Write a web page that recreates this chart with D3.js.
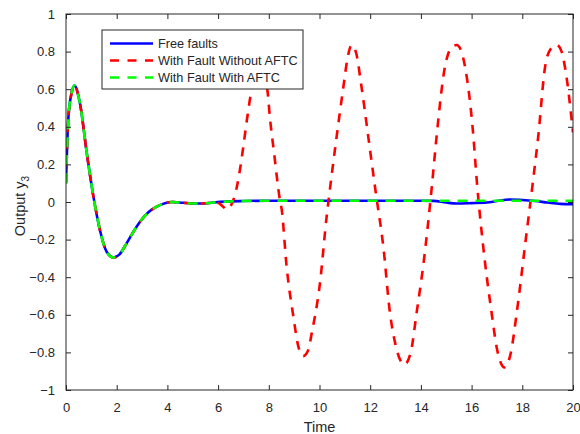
<!DOCTYPE html>
<html>
<head>
<meta charset="utf-8">
<script src="https://cdn.jsdelivr.net/npm/d3@7"></script>
<style>
    body { margin: 0; background: #fff; }
    text { font-family: "Liberation Sans", Arial, sans-serif; fill: #262626; }
</style>
</head>
<body>
<div id="chart"></div>
<script>
const WIDTH = 580;
const HEIGHT = 434;
const MARGIN = { top: 14, right: 7, bottom: 44, left: 66 };

const xTicks = [0, 2, 4, 6, 8, 10, 12, 14, 16, 18, 20];
const yTicks = [-1, -0.8, -0.6, -0.4, -0.2, 0, 0.2, 0.4, 0.6, 0.8, 1];
const seriesNames = ['Free faults', 'With Fault Without AFTC', 'With Fault With AFTC'];
const seriesColors = ['#0000ff', '#ff0000', '#00ff00'];

// Free faults
const freeT = [0, 0.09, 0.22, 0.33, 0.55, 0.82, 1.08, 1.34, 1.6, 1.87, 2.1, 2.39, 2.65, 2.92, 3.25, 3.58, 3.9, 4.2, 4.6, 5.0, 5.4, 5.8, 6.3, 7.0, 8, 10, 12, 14, 14.5, 15.0, 15.4, 16.0, 16.6, 17.0, 17.5, 17.9, 18.5, 19.0, 19.5, 20];
const freeY = [0.10, 0.44, 0.58, 0.62, 0.525, 0.26, 0.03, -0.15, -0.264, -0.295, -0.28, -0.22, -0.16, -0.105, -0.055, -0.025, -0.006, 0.0, -0.004, -0.008, -0.008, -0.003, 0.002, 0.005, 0.007, 0.007, 0.007, 0.007, 0.006, -0.003, -0.008, -0.006, -0.003, 0.005, 0.013, 0.012, 0.005, -0.003, -0.01, -0.012];

// With fault, without AFTC
const noAftcT = [0, 0.09, 0.22, 0.33, 0.55, 0.82, 1.08, 1.34, 1.6, 1.87, 2.1, 2.39, 2.65, 2.92, 3.25, 3.58, 3.9, 4.2, 4.6, 5.0, 5.4, 5.8, 6.0, 6.2, 6.35, 6.5, 6.67, 6.86, 7.0, 7.14, 7.33, 7.5, 7.63, 7.8, 7.94, 8.05, 8.2, 8.44, 8.51, 8.7, 8.97, 9.15, 9.35, 9.55, 9.69, 10.02, 10.28, 10.35, 10.62, 10.94, 11.1, 11.27, 11.45, 11.66, 11.98, 12.22, 12.52, 12.78, 13.0, 13.35, 13.6, 13.83, 14.1, 14.43, 14.62, 14.95, 15.15, 15.41, 15.6, 15.74, 16.07, 16.2, 16.46, 16.79, 17.0, 17.3, 17.55, 17.78, 18.1, 18.43, 18.63, 18.9, 19.1, 19.36, 19.55, 19.68, 20.0];
const noAftcY = [0.10, 0.44, 0.58, 0.62, 0.525, 0.26, 0.03, -0.15, -0.264, -0.295, -0.28, -0.22, -0.16, -0.105, -0.055, -0.025, -0.006, 0.0, -0.004, -0.008, -0.008, -0.003, -0.005, -0.025, -0.04, -0.02, 0.04, 0.17, 0.30, 0.44, 0.60, 0.665, 0.68, 0.665, 0.60, 0.44, 0.27, 0.01, -0.04, -0.34, -0.61, -0.76, -0.82, -0.79, -0.70, -0.43, -0.08, 0.0, 0.29, 0.61, 0.76, 0.835, 0.79, 0.61, 0.29, 0.05, -0.24, -0.59, -0.76, -0.865, -0.80, -0.59, -0.33, 0.08, 0.35, 0.72, 0.81, 0.835, 0.80, 0.72, 0.35, 0.12, -0.24, -0.59, -0.78, -0.88, -0.80, -0.59, -0.24, 0.12, 0.35, 0.72, 0.81, 0.835, 0.80, 0.72, 0.37];

// With fault, with AFTC
const aftcT = [0, 0.09, 0.22, 0.33, 0.55, 0.82, 1.08, 1.34, 1.6, 1.87, 2.1, 2.39, 2.65, 2.92, 3.25, 3.58, 3.9, 4.2, 4.6, 5.0, 5.4, 5.8, 6.3, 7.0, 8, 10, 12, 14, 16, 18, 20];
const aftcY = [0.10, 0.44, 0.58, 0.62, 0.525, 0.26, 0.03, -0.15, -0.264, -0.295, -0.28, -0.22, -0.16, -0.105, -0.055, -0.025, -0.006, 0.0, -0.004, -0.008, -0.008, -0.003, 0.002, 0.005, 0.007, 0.007, 0.007, 0.007, 0.007, 0.007, 0.007];

const series = [
    { t: freeT, y: freeY, dash: null },
    { t: noAftcT, y: noAftcY, dash: '9,8' },
    { t: aftcT, y: aftcY, dash: '10,8' },
];

const svg = d3.select('#chart')
    .append('svg')
    .attr('width', WIDTH)
    .attr('height', HEIGHT);

const x = d3.scaleLinear().domain([0, 20]).range([MARGIN.left, WIDTH - MARGIN.right]);
const y = d3.scaleLinear().domain([-1, 1]).range([HEIGHT - MARGIN.bottom, MARGIN.top]);

svg.append('defs').append('clipPath')
    .attr('id', 'plot-clip')
    .append('rect')
    .attr('x', x(0)).attr('y', y(1))
    .attr('width', x(20) - x(0)).attr('height', y(-1) - y(1));

// Draw lines
const valueline = d3.line()
    .x(d => x(d[0]))
    .y(d => y(d[1]))
    .curve(d3.curveMonotoneX);

const lines = svg.append('g').attr('clip-path', 'url(#plot-clip)');
series.forEach((s, i) => {
    const pts = s.t.map((t, k) => [t, s.y[k]]);
    lines.append('path')
        .datum(pts)
        .attr('d', valueline)
        .style('fill', 'none')
        .style('stroke', seriesColors[i])
        .style('stroke-width', 2.6)
        .style('stroke-dasharray', s.dash);
});

// Axes (box with inward ticks on all sides)
const axisColor = '#262626';
const tickLen = 5;

function styleAxis(g) {
    g.select('.domain').remove();
    g.selectAll('.tick line').attr('stroke', axisColor);
    g.selectAll('.tick text')
        .style('font-size', '13px')
        .style('fill', axisColor);
}

svg.append('g')
    .attr('transform', `translate(0,${y(-1)})`)
    .call(d3.axisBottom(x).tickValues(xTicks).tickSizeInner(-tickLen).tickPadding(13).tickFormat(d3.format('d')))
    .call(styleAxis);

svg.append('g')
    .attr('transform', `translate(0,${y(1)})`)
    .call(d3.axisTop(x).tickValues(xTicks).tickSizeInner(-tickLen).tickFormat(''))
    .call(styleAxis);

svg.append('g')
    .attr('transform', `translate(${x(0)},0)`)
    .call(d3.axisLeft(y).tickValues(yTicks).tickSizeInner(-tickLen).tickPadding(11).tickFormat(d => d3.format('')(+d.toFixed(1))))
    .call(styleAxis);

svg.append('g')
    .attr('transform', `translate(${x(20)},0)`)
    .call(d3.axisRight(y).tickValues(yTicks).tickSizeInner(-tickLen).tickFormat(''))
    .call(styleAxis);

svg.append('rect')
    .attr('x', x(0)).attr('y', y(1))
    .attr('width', x(20) - x(0)).attr('height', y(-1) - y(1))
    .style('fill', 'none')
    .style('stroke', axisColor)
    .style('stroke-width', 1);

// Axis labels
svg.append('text')
    .attr('x', (x(0) + x(20)) / 2)
    .attr('y', 432)
    .style('text-anchor', 'middle')
    .style('font-size', '14.5px')
    .text('Time');

const yLabel = svg.append('text')
    .attr('transform', `translate(25,${(y(-1) + y(1)) / 2 + 4}) rotate(-90)`)
    .style('text-anchor', 'middle')
    .style('font-size', '14.5px');
yLabel.append('tspan').text('Output y');
yLabel.append('tspan').attr('dy', 4).style('font-size', '10px').text('3');

// Legend
const legend = svg.append('g').attr('transform', 'translate(102,30)');
legend.append('rect')
    .attr('x', 0).attr('y', 0)
    .attr('width', 201).attr('height', 59)
    .style('fill', '#fff')
    .style('stroke', axisColor)
    .style('stroke-width', 1);

seriesNames.forEach((name, i) => {
    const row = legend.append('g').attr('transform', `translate(0,${13.5 + i * 17})`);
    row.append('line')
        .attr('x1', 8).attr('x2', 51)
        .attr('y1', 0).attr('y2', 0)
        .style('stroke', seriesColors[i])
        .style('stroke-width', 2.6)
        .style('stroke-dasharray', series[i].dash ? '9,8.5' : null);
    row.append('text')
        .attr('x', 56)
        .attr('y', 4.5)
        .style('font-size', '12.7px')
        .text(name);
});
</script>
</body>
</html>
